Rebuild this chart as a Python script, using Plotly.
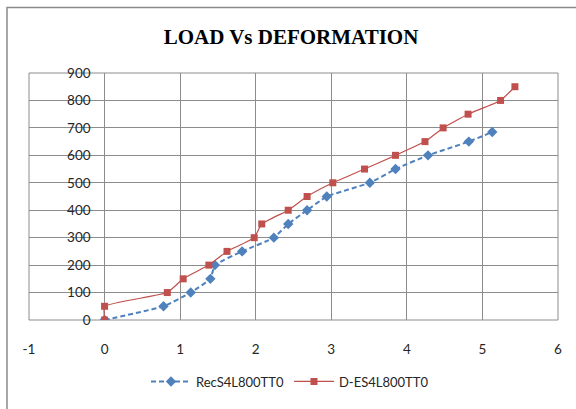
import plotly.graph_objects as go

# Load vs deformation readings
rec_deformation = [0, 0.78, 1.14, 1.40, 1.46, 1.82, 2.24, 2.43, 2.68, 2.94, 3.51, 3.85, 4.28, 4.82, 5.13]
rec_load = [0, 50, 100, 150, 200, 250, 300, 350, 400, 450, 500, 550, 600, 650, 685]

des_deformation = [0, 0, 0.83, 1.04, 1.38, 1.62, 1.98, 2.08, 2.43, 2.68, 3.02, 3.44, 3.85, 4.24, 4.48, 4.81, 5.24, 5.43]
des_load = [0, 50, 100, 150, 200, 250, 300, 350, 400, 450, 500, 550, 600, 650, 700, 750, 800, 850]

x_ticks = [-1, 0, 1, 2, 3, 4, 5, 6]
x_tick_labels = ["-1", "0", "1", "2", "3", "4", "5", "6"]
y_ticks = [0, 100, 200, 300, 400, 500, 600, 700, 800, 900]

BLUE = "#4F81BD"
RED = "#C0504D"
GRID = "#8c8c8c"
FONT = "Lato"

fig = go.Figure()
fig.add_trace(go.Scatter(
    x=rec_deformation, y=rec_load, name="RecS4L800TT0",
    mode="lines+markers",
    line=dict(color=BLUE, width=2, dash="5px,3px", shape="spline", smoothing=0.4),
    marker=dict(symbol="diamond", size=8, color=BLUE),
))
fig.add_trace(go.Scatter(
    x=des_deformation, y=des_load, name="D-ES4L800TT0",
    mode="lines+markers",
    line=dict(color=RED, width=1.2, shape="spline", smoothing=0.4),
    marker=dict(symbol="square", size=7, color=RED),
))

W, H = 576, 409
L, R, T, B = 29, 18, 73, 87
pw, ph = W - L - R, H - T - B

fig.update_layout(
    width=W, height=H,
    margin=dict(l=L, r=R, t=T, b=B),
    paper_bgcolor="white", plot_bgcolor="white",
    font=dict(family=FONT, size=13.5, color="#262626"),
    title=dict(
        text="<b>LOAD Vs DEFORMATION</b>",
        font=dict(family="Liberation Serif", size=21, color="black"),
        x=(291 - L) / pw, xref="paper", xanchor="center",
        y=1 - 37 / H, yref="container", yanchor="middle",
    ),
    xaxis=dict(
        range=[-1, 6], tickvals=x_ticks, ticktext=x_tick_labels,
        showgrid=True, gridcolor=GRID, gridwidth=1,
        zeroline=True, zerolinecolor=GRID, zerolinewidth=1,
        showline=False, ticks="", ticklabelstandoff=19,
        tickfont=dict(family=FONT, size=13.5, color="#262626"),
    ),
    yaxis=dict(
        range=[0, 900], tickvals=y_ticks, showgrid=True, gridcolor=GRID, gridwidth=1,
        zeroline=False, showline=False, ticks="",
        anchor="free", position=(0 - (-1)) / 7,
        ticklabelstandoff=14,
        tickfont=dict(family=FONT, size=13.5, color="#262626"),
    ),
    showlegend=True,
    legend=dict(
        orientation="h", x=(290 - L) / pw, xanchor="center",
        y=(322 - 384) / ph, yanchor="middle",
        font=dict(family=FONT, size=13, color="#262626"),
        bgcolor="rgba(0,0,0,0)", itemwidth=40,
    ),
    shapes=[
        # plot-area frame
        dict(type="rect", xref="paper", yref="paper", x0=0, x1=1, y0=0, y1=1,
             line=dict(color=GRID, width=1), layer="below"),
        # outer chart frame
        dict(type="rect", xref="paper", yref="paper",
             x0=(7 - L) / pw, x1=(W + 20 - L) / pw,
             y0=(322 - (H + 20)) / ph, y1=(322 - 7) / ph,
             line=dict(color="#8a8a8a", width=1.5), layer="below"),
    ],
)

fig.write_html("out.html")
